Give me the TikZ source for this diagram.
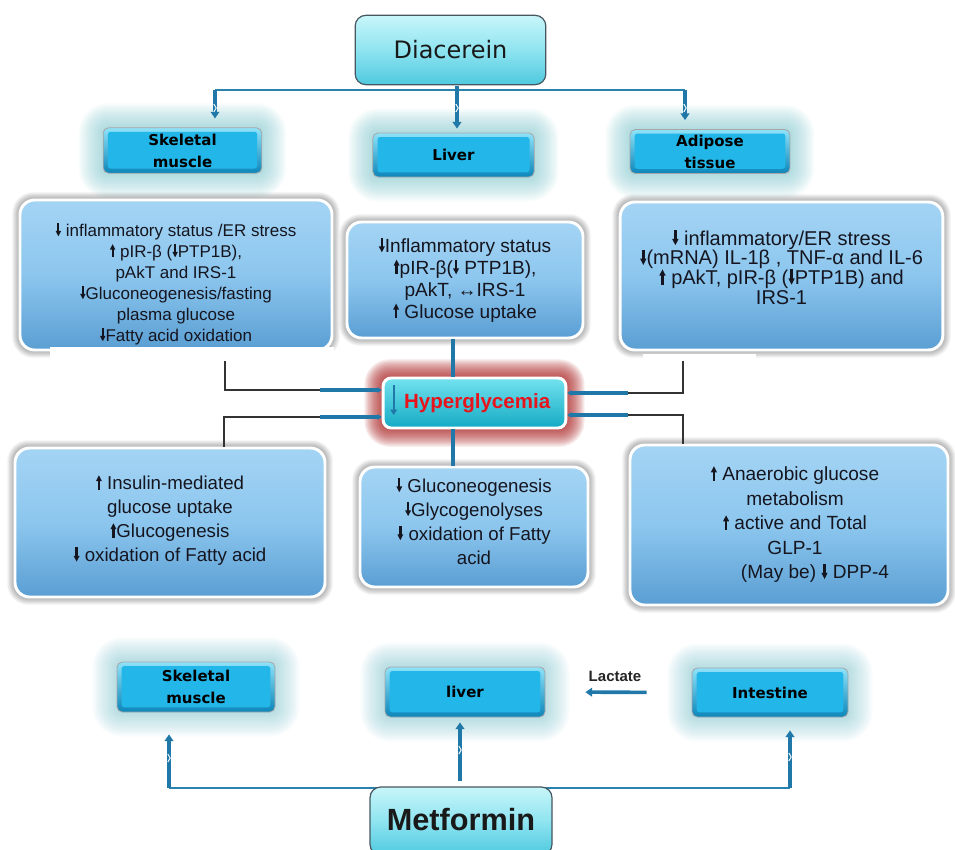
\documentclass[tikz,border=0pt]{standalone}
\usepackage{fontspec}
\setmainfont{Liberation Sans}
\newfontfamily\dvs{DejaVu Sans}
\usetikzlibrary{arrows.meta,backgrounds,calc}
\definecolor{cblue}{HTML}{1F78A8}
\definecolor{lblue}{HTML}{2A82AE}
\definecolor{kgray}{HTML}{333333}
\definecolor{tbTop}{HTML}{A4D4F4}
\definecolor{tbMid}{HTML}{8CC6EE}
\definecolor{tbBot}{HTML}{5A9ED3}
\definecolor{orgTop}{HTML}{8FE2F8}
\definecolor{orgBot}{HTML}{0C86BA}
\definecolor{orgFace}{HTML}{22B6E9}
\definecolor{drTop}{HTML}{C8F6FA}
\definecolor{drMid}{HTML}{8FE4F0}
\definecolor{drBot}{HTML}{4FC9DF}
\definecolor{hyTop}{HTML}{73E2EF}
\definecolor{hyBot}{HTML}{14AAC4}
\definecolor{hyRed}{HTML}{E8141B}
\definecolor{glowRed}{HTML}{B02828}
\definecolor{glowCyan}{HTML}{79C6CF}
\definecolor{txt}{HTML}{15151F}
\newcommand\dna{\tikz[x=0.085em,y=0.085em,baseline=0pt,sharp corners]{%
  \fill[txt] (1.15,9) rectangle (2.65,3.2);
  \fill[txt] (0,3.7) -- (3.8,3.7) -- (1.9,0) -- cycle;}}
\newcommand\upa{\tikz[x=0.085em,y=0.085em,baseline=0pt,sharp corners]{%
  \fill[txt] (1.15,0) rectangle (2.65,5.8);
  \fill[txt] (0,5.3) -- (3.8,5.3) -- (1.9,9) -- cycle;}}
% #1 node, #2 colour, #3 extent (pt), #4 opacity per layer, #5 base radius (pt)
\newcommand\glowbox[5]{%
  \foreach \i in {1,...,14}{%
    \pgfmathsetmacro\dd{#3*\i/14}%
    \pgfmathsetmacro\rr{#5+#3*\i/14}%
    \fill[#2, opacity=#4, rounded corners=\rr pt]
      ([xshift=-\dd pt,yshift=\dd pt]#1.north west) rectangle
      ([xshift=\dd pt,yshift=-\dd pt]#1.south east);
  }}
% small white zigzag mark on a thick arrow: #1 coordinate
\newcommand\zig[1]{\draw[white, line width=0.7pt, line join=round]
  ([xshift=-0.9pt,yshift=3pt]#1) -- ([xshift=0.9pt,yshift=0pt]#1) -- ([xshift=-0.9pt,yshift=-3pt]#1);}
\begin{document}
\begin{tikzpicture}[x=0.75pt,y=-0.75pt,
  drug/.style={draw=black!70!cyan, line width=0.9pt, rounded corners=8pt,
    top color=drTop, bottom color=drBot, middle color=drMid, inner sep=0pt, text=black!90},
  organ/.style={draw=black!35, line width=0.6pt, rounded corners=4pt,
    top color=orgTop, bottom color=orgBot, inner sep=0pt, align=center, text=black,
    font=\dvs\bfseries\fontsize{11.25}{16.5}\selectfont,
    path picture={\fill[orgFace, rounded corners=2pt]
      ([xshift=3.5pt,yshift=-3pt]path picture bounding box.north west) rectangle
      ([xshift=-3.5pt,yshift=3.5pt]path picture bounding box.south east);}},
  tbox/.style={draw=white, line width=2.2pt, rounded corners=11pt,
    top color=tbTop, bottom color=tbBot, middle color=tbMid,
    align=center, text=txt, inner sep=0pt},
  ttext/.style={align=center, text=txt, inner sep=0pt},
  barrow/.style={draw=cblue, line width=2.7pt, -{Triangle[width=6.5pt,length=5pt]}},
  bthick/.style={draw=cblue, line width=2.7pt},
  bline/.style={draw=lblue, line width=1.5pt},
  kline/.style={draw=kgray, line width=1pt},
  hbar/.style={draw=cblue, line width=2.7pt, -{Triangle[width=4pt,length=3pt]}}]
\useasboundingbox (0,0) rectangle (955,849);

% ---- Diacerein and top organs
\node[drug, minimum width=143pt, minimum height=52pt,
  font=\dvs\fontsize{18}{20}\selectfont] (dia) at (450.5,50) {Diacerein};
\node[organ, minimum width=119pt, minimum height=34pt] (skm) at (182.5,150.5) {Skeletal\\muscle};
\node[organ, minimum width=121pt, minimum height=33pt] (liv) at (453.5,155) {Liver};
\node[organ, minimum width=120pt, minimum height=33pt] (adi) at (710,151.5) {Adipose\\tissue};

% ---- upper text boxes
\node[tbox, minimum width=234pt, minimum height=112.5pt] (tL) at (176,275) {};
\node[ttext, font=\fontsize{12.75}{15.75}\selectfont] (tLt) at (176,284)
  {\dna{} inflammatory status /ER stress\\
   \upa{} pIR-β (\dna PTP1B),\\
   pAkT and IRS-1\\
   \dna Gluconeogenesis/fasting\\
   plasma glucose\\
   \dna Fatty acid oxidation};
\node[tbox, minimum width=177pt, minimum height=87pt,
  font=\fontsize{14.3}{16.5}\selectfont] (tM) at (465,280)
  {\dna Inflammatory status\\
   \upa pIR-β(\dna{} PTP1B),\\
   pAkT, ↔IRS-1\\
   \upa{} Glucose uptake};
\node[tbox, minimum width=242pt, minimum height=111pt,
  font=\fontsize{15}{14.8}\selectfont] (tR) at (781.5,276)
  {\dna{} inflammatory/ER stress\\
   \dna(mRNA) IL-1β , TNF-α and IL-6\\
   \upa{} pAkT, pIR-β (\dna PTP1B) and\\
   IRS-1\\[-1.5pt]};

% ---- Hyperglycemia
\node[draw=white, line width=2.2pt, rounded corners=6pt, top color=hyTop, bottom color=hyBot,
  minimum width=137pt, minimum height=37.5pt, inner sep=0pt, text=hyRed,
  font=\bfseries\fontsize{15.4}{18}\selectfont] (hyp) at (474.5,403) {\hspace*{4pt}Hyperglycemia};

% ---- lower text boxes
\node[tbox, minimum width=232.5pt, minimum height=111.75pt,
  font=\fontsize{14}{18}\selectfont] (bL) at (170,522.5)
  {\upa{} Insulin-mediated\\
   glucose uptake\\
   \upa Glucogenesis\\
   \dna{} oxidation of Fatty acid\\[-12pt]};
\node[tbox, minimum width=171pt, minimum height=90pt,
  font=\fontsize{14}{18}\selectfont] (bM) at (474,527)
  {\dna{} Gluconeogenesis\\
   \dna Glycogenolyses\\
   \dna{} oxidation of Fatty\\
   acid\\[-9pt]};
\node[tbox, minimum width=238.5pt, minimum height=120pt,
  font=\fontsize{14.3}{18.4}\selectfont] (bR) at (789,525)
  {\hspace*{9pt}\begin{tabular}{@{}c@{}}
   \upa{} Anaerobic glucose\\
   metabolism\\
   \upa{} active and Total\\
   GLP-1\\
   \hspace*{30pt}(May be) \dna{} DPP-4\end{tabular}};

% ---- Metformin targets
\node[organ, minimum width=118.5pt, minimum height=37.5pt] (skm2) at (196,687) {Skeletal\\muscle};
\node[organ, minimum width=120pt, minimum height=37.5pt] (liv2) at (465,692) {liver};
\node[organ, minimum width=117pt, minimum height=36.75pt] (int) at (770,692.5) {Intestine};
\node[font=\bfseries\fontsize{11.25}{13}\selectfont, text=black!85] (lac) at (615,676) {Lactate};

% ---- backgrounds and glows
\begin{scope}[on background layer]
  \fill[white] (0,0) rectangle (955,849);
  \glowbox{skm}{glowCyan}{18}{0.05}{4}
  \glowbox{liv}{glowCyan}{18}{0.05}{4}
  \glowbox{adi}{glowCyan}{18}{0.05}{4}
  \glowbox{skm2}{glowCyan}{18}{0.045}{4}
  \glowbox{liv2}{glowCyan}{18}{0.045}{4}
  \glowbox{int}{glowCyan}{18}{0.045}{4}
  \begin{scope}[yshift=-1.5pt]
  \glowbox{tL}{black}{5}{0.02}{11}
  \glowbox{tM}{black}{5}{0.02}{11}
  \glowbox{tR}{black}{5}{0.02}{11}
  \glowbox{bL}{black}{5}{0.02}{11}
  \glowbox{bM}{black}{5}{0.02}{11}
  \glowbox{bR}{black}{5}{0.02}{11}
  \end{scope}
  \glowbox{hyp}{glowRed}{13}{0.085}{6}
\end{scope}

% white cover rectangles at the bottom of the upper side boxes
\fill[white] (50,347) rectangle (334,366);
\fill[white] (643,354) rectangle (756,364);

% ---- Diacerein connectors
\coordinate (dL) at (215,90);
\coordinate (dR) at (685,90);
\coordinate (dC) at (457,86);
\draw[bline] (dL) -- (dR);
\draw[barrow] (dL) -- ($(dL |- skm.north)+(0,-9)$);
\draw[barrow] (dC) -- ($(dC |- liv.north)+(0,-4)$);
\draw[barrow] (dR) -- ($(dR |- adi.north)+(0,-9)$);
\zig{$(dL)+(0,18)$}
\zig{$(dC)+(0,22)$}
\zig{$(dR)+(0,18)$}

% ---- central column
\coordinate (vx) at (453,0);
\draw[bthick] (tM.south -| vx) -- (hyp.north -| vx);
\draw[bthick] (hyp.south -| vx) -- (bM.north -| vx);
\draw[cblue, line width=1.8pt, -{Triangle[width=5pt,length=4pt]}]
  ($(hyp.west)+(12,-18)$) -- ($(hyp.west)+(12,12)$);

% ---- side connectors into Hyperglycemia
\coordinate (kL1) at (225,390);
\coordinate (jL1) at (320,390);
\coordinate (kL2) at (224,417);
\coordinate (jL2) at (320,417);
\coordinate (kR1) at (683,393);
\coordinate (jR1) at (628,393);
\coordinate (kR2) at (683,415);
\coordinate (jR2) at (628,415);
\draw[kline] ($(tL.south -| kL1)+(0,10)$) -- (kL1) -- (jL1);
\draw[hbar] (jL1) -- (jL1 -| hyp.west);
\draw[kline] (bL.north -| kL2) -- (kL2) -- (jL2);
\draw[hbar] (jL2) -- (jL2 -| hyp.west);
\draw[kline] ($(tR.south -| kR1)+(0,10)$) -- (kR1) -- (jR1);
\draw[hbar] (jR1) -- (jR1 -| hyp.east);
\draw[kline] (bR.north -| kR2) -- (kR2) -- (jR2);
\draw[hbar] (jR2) -- (jR2 -| hyp.east);

% ---- Lactate arrow
\draw[barrow, shorten <=33.75pt, shorten >=30pt] (int.west) -- (liv2.east);

% ---- Metformin
\coordinate (mL) at (169,788);
\coordinate (mR) at (790,788);
\coordinate (mC) at (460,781);
\draw[bline] (mL) -- (mR);
\draw[barrow] (mL) -- ($(mL |- skm2.south)+(0,22)$);
\draw[barrow] (mC) -- ($(mC |- liv2.south)+(0,5)$);
\draw[barrow] (mR) -- ($(mR |- int.south)+(0,13)$);
\zig{$(mL)+(0,-30)$}
\zig{$(mC)+(0,-31)$}
\zig{$(mR)+(0,-31)$}
\node[drug, minimum width=136.5pt, minimum height=51pt,
  font=\bfseries\fontsize{23}{26}\selectfont] (met) at (461,821) {\raisebox{3pt}{Metformin}};
\end{tikzpicture}
\end{document}
